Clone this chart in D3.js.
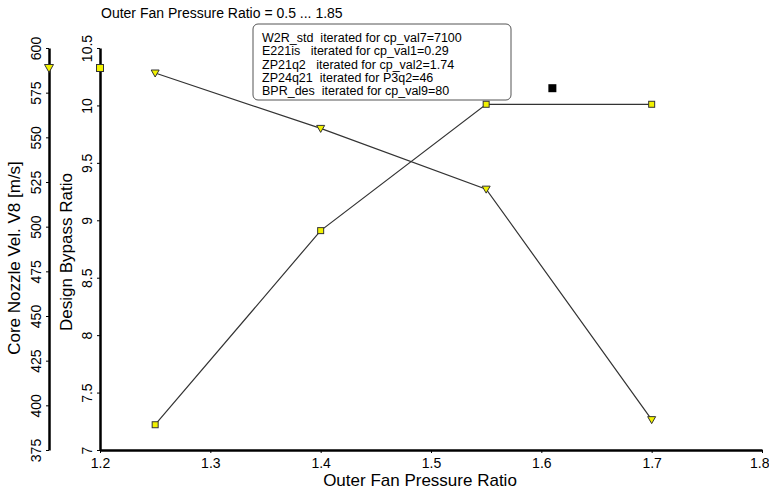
<!DOCTYPE html>
<html><head><meta charset="utf-8">
<script src="https://cdn.jsdelivr.net/npm/d3@7"></script>
<style>body{margin:0;background:#fff}svg{font-family:Arial,"Liberation Sans",sans-serif}</style>
</head><body>
<svg id="c" width="769" height="490"></svg>
<script>
const fpr = [1.25, 1.4, 1.55, 1.7];
const bypassRatio = [7.22, 8.91, 10.01, 10.01];
const coreVel = [586, 555, 521, 392];
const extraPoint = [{x: 1.61, y: 10.15}];
const xTicks = [1.2, 1.3, 1.4, 1.5, 1.6, 1.7, 1.8];
const bprTicks = [7, 7.5, 8, 8.5, 9, 9.5, 10, 10.5];
const velTicks = [375, 400, 425, 450, 475, 500, 525, 550, 575, 600];
const legendLines = [
  "W2R_std  iterated for cp_val7=7100",
  "E221is   iterated for cp_val1=0.29",
  "ZP21q2   iterated for cp_val2=1.74",
  "ZP24q21  iterated for P3q2=46",
  "BPR_des  iterated for cp_val9=80"
];
const title = "Outer Fan Pressure Ratio = 0.5 ... 1.85";

const svg = d3.select("#c");
const x = d3.scaleLinear().domain([1.2, 1.8]).range([100, 762]);
const yB = d3.scaleLinear().domain([7, 10.5]).range([450, 48]);
const yV = d3.scaleLinear().domain([375, 600]).range([450, 48]);

// x axis
const gx = svg.append("g").attr("transform", "translate(0,450)")
  .call(d3.axisBottom(x).tickValues(xTicks).tickFormat(d3.format(".1f")).tickSize(3).tickSizeOuter(0));
gx.select(".domain").attr("stroke-width", 2.5);
gx.selectAll("text").attr("font-size", 14).attr("fill", "#000").attr("dy", "0.85em");
gx.selectAll(".tick text").filter(d => d === 1.8).attr("text-anchor", "end").attr("x", 7);

// inner y axis (bypass)
const gy = svg.append("g").attr("transform", "translate(100,0)")
  .call(d3.axisLeft(yB).tickValues(bprTicks).tickFormat(d => d3.format("")(d)).tickSize(3).tickSizeOuter(0));
gy.select(".domain").attr("stroke-width", 2.5);
gy.selectAll(".tick text").attr("font-size", 14).attr("fill", "#000")
  .attr("transform", "rotate(-90)").attr("x", 0).attr("y", -8).attr("dy", 0).attr("text-anchor", "middle");

// outer y axis (velocity)
const gv = svg.append("g").attr("transform", "translate(49,0)")
  .call(d3.axisLeft(yV).tickValues(velTicks).tickSize(3).tickSizeOuter(0));
gv.select(".domain").attr("stroke-width", 2.5);
gv.selectAll(".tick text").attr("font-size", 14).attr("fill", "#000")
  .attr("transform", "rotate(-90)").attr("x", 0).attr("y", -8).attr("dy", 0).attr("text-anchor", "middle");

// axis labels
svg.append("text").attr("x", 420).attr("y", 486).attr("text-anchor", "middle")
  .attr("font-size", 17).text("Outer Fan Pressure Ratio");
svg.append("text").attr("transform", "translate(72,252) rotate(-90)").attr("text-anchor", "middle")
  .attr("font-size", 17).text("Design Bypass Ratio");
svg.append("text").attr("transform", "translate(20,258) rotate(-90)").attr("text-anchor", "middle")
  .attr("font-size", 17).text("Core Nozzle Vel. V8 [m/s]");

// title
svg.append("text").attr("x", 101).attr("y", 18).attr("font-size", 14).text(title);

// lines
const lineB = d3.line().x((d, i) => x(fpr[i])).y(d => yB(d));
const lineV = d3.line().x((d, i) => x(fpr[i])).y(d => yV(d));
svg.append("path").attr("d", lineB(bypassRatio)).attr("fill", "none").attr("stroke", "#333").attr("stroke-width", 1.2);
svg.append("path").attr("d", lineV(coreVel)).attr("fill", "none").attr("stroke", "#333").attr("stroke-width", 1.2);

// legend box
const lg = svg.append("g");
lg.append("rect").attr("x", 253).attr("y", 24).attr("width", 258).attr("height", 76).attr("rx", 5)
  .attr("fill", "#fff").attr("stroke", "#555").attr("stroke-width", 1);
lg.selectAll("text").data(legendLines).join("text")
  .attr("x", 262).attr("y", (d, i) => 42 + i * 13.3).attr("font-size", 12.5)
  .attr("xml:space", "preserve").style("white-space", "pre").text(d => d);

// markers
function square(cx, cy, s) {
  svg.append("rect").attr("x", cx - s/2).attr("y", cy - s/2).attr("width", s).attr("height", s)
    .attr("fill", "#f2f200").attr("stroke", "#333").attr("stroke-width", 1);
}
function tri(cx, cy, s) {
  svg.append("path").attr("d", `M${cx - s/2},${cy - s/2 + 1}L${cx + s/2},${cy - s/2 + 1}L${cx},${cy + s/2}Z`)
    .attr("fill", "#f2f200").attr("stroke", "#333").attr("stroke-width", 1);
}
bypassRatio.forEach((v, i) => square(x(fpr[i]), yB(v), 6));
coreVel.forEach((v, i) => tri(x(fpr[i]), yV(v), 8));
// axis symbols
square(100, 68, 7);
tri(49, 68, 9);
// extra black point
extraPoint.forEach(p => svg.append("rect").attr("x", x(p.x) - 4).attr("y", yB(p.y) - 4)
  .attr("width", 8).attr("height", 8).attr("fill", "#000"));
</script>
</body></html>
